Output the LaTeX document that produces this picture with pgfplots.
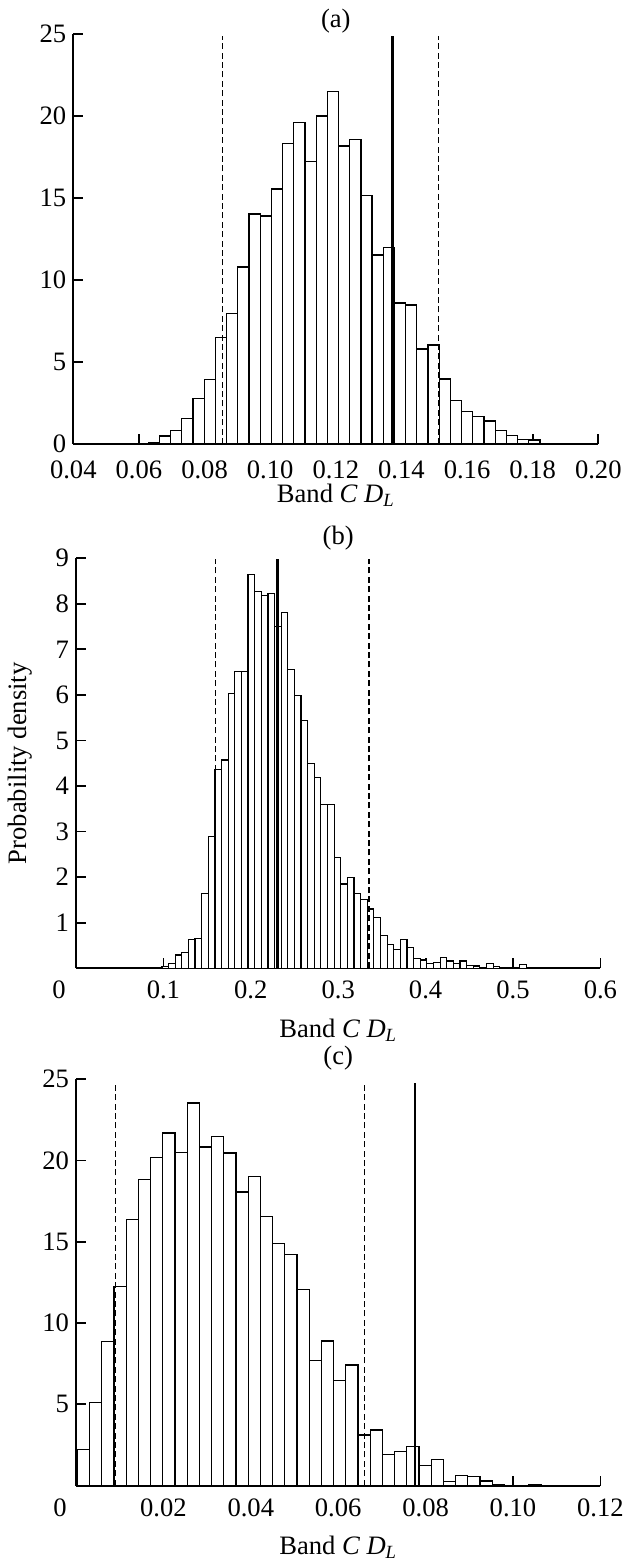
\documentclass[border=0pt]{standalone}
\usepackage{fontspec}
\setmainfont{Liberation Serif}
\usepackage{pgfplots}
\pgfplotsset{compat=1.18}

% common look of the three histograms
\pgfplotsset{
  histo/.style={
    scale only axis, clip=false,
    axis x line*=bottom, axis y line*=left,
    axis line style={line width=0.9pt},
    tick align=inside, major tick length=5pt,
    every tick/.style={line width=0.9pt, black},
    font=\fontsize{13.3}{16}\selectfont,
    every tick label/.append style={font=\fontsize{13.3}{16}\selectfont},
    /pgf/number format/assume math mode=true,
    xticklabel style={yshift=-3pt},
    xlabel={Band \textit{C D}\textsubscript{\textit{L}}},
    title style={at={(0.5,1)}, anchor=south},
  },
  bars/.style={ybar interval, fill=white, draw=black, line width=0.6pt},
  dashv/.style={black, line width=0.6pt, dash pattern=on 3pt off 1.7pt},
  solidv/.style={black, line width=1.2pt},
}

\begin{document}
\begin{tikzpicture}
\useasboundingbox (0pt,0pt) rectangle (312.5pt,-783pt);

% ---------------- (a)
\begin{axis}[histo,
  at={(36.65pt,-222pt)}, anchor=south west,
  width=262.5pt, height=204.85pt,
  xmin=0.04, xmax=0.20, ymin=0, ymax=25,
  xtick={0.04,0.06,0.08,0.10,0.12,0.14,0.16,0.18,0.20},
  xticklabels={0.04,0.06,0.08,0.10,0.12,0.14,0.16,0.18,0.20},
  xticklabel style={yshift=-2pt},
  ytick={0,5,10,15,20,25},
  title={(a)}, title style={yshift=-9pt},
  xlabel style={at={(axis description cs:0.5,-0.125)}, anchor=center},
]
\addplot[bars] coordinates {
(0.04917,0.05) (0.05258,0) (0.05600,0) (0.05941,0) (0.06282,0.10)
(0.06623,0.49) (0.06965,0.81) (0.07306,1.54) (0.07647,2.77) (0.07988,3.95)
(0.08329,6.49) (0.08670,7.97) (0.09011,10.8) (0.09353,14.03) (0.09694,13.91)
(0.10035,15.56) (0.10376,18.32) (0.10717,19.63) (0.11059,17.25) (0.11400,20.01)
(0.11741,21.52) (0.12082,18.18) (0.12423,18.59) (0.12765,15.15) (0.13106,11.53)
(0.13447,12.0) (0.13788,8.6) (0.14129,8.48) (0.14471,5.8) (0.14812,6.04)
(0.15153,3.97) (0.15494,2.67) (0.15835,1.99) (0.16177,1.67) (0.16518,1.40)
(0.16859,0.81) (0.17200,0.53) (0.17541,0.29) (0.17883,0.24) (0.18224,0)
(0.18565,0.05) (0.18906,0)
};
\addplot[dashv] coordinates {(0.0855,0) (0.0855,24.9)};
\addplot[dashv] coordinates {(0.1512,0) (0.1512,24.9)};
\addplot[solidv] coordinates {(0.1373,0) (0.1373,24.9)};
\end{axis}

% ---------------- (b)
\begin{axis}[histo,
  at={(38pt,-484.1pt)}, anchor=south west,
  width=262.2pt, height=204.95pt,
  xmin=0, xmax=0.6, ymin=0, ymax=9,
  xtick={0,0.1,0.2,0.3,0.4,0.5,0.6},
  xticklabels={0\hspace*{17pt},0.1,0.2,0.3,0.4,0.5,0.6},
  ytick={1,2,3,4,5,6,7,8,9},
  title={(b)}, title style={yshift=-5.5pt},
  ylabel={Probability density},
  ylabel style={at={(axis description cs:-0.1065,0.5)}, anchor=center},
  xlabel style={at={(axis description cs:0.5,-0.151)}, anchor=center},
]
\addplot[bars] coordinates {
(0.08315,0.02) (0.09073,0) (0.09831,0.03) (0.10589,0.10) (0.11347,0.29)
(0.12105,0.35) (0.12862,0.63) (0.13620,0.66) (0.14378,1.64) (0.15136,2.90)
(0.15894,4.37) (0.16652,4.57) (0.17410,6.03) (0.18168,6.52) (0.18926,6.51)
(0.19684,8.65) (0.20441,8.27) (0.21199,8.18) (0.21957,8.23) (0.22715,7.51)
(0.23473,7.81) (0.24231,6.56) (0.24989,5.98) (0.25747,5.43) (0.26505,4.49)
(0.27263,4.19) (0.28020,3.60) (0.28778,3.60) (0.29536,2.43) (0.30294,1.85)
(0.31052,2.00) (0.31810,1.64) (0.32568,1.50) (0.33326,1.30) (0.34084,1.11)
(0.34842,0.71) (0.35599,0.52) (0.36357,0.41) (0.37115,0.63) (0.37873,0.46)
(0.38631,0.22) (0.39389,0.18) (0.40147,0.11) (0.40905,0.12) (0.41663,0.23)
(0.42421,0.16) (0.43178,0.11) (0.43936,0.16) (0.44694,0.06) (0.45452,0.05)
(0.46210,0.01) (0.46968,0.11) (0.47726,0.04) (0.48484,0) (0.49242,0.02)
(0.50000,0) (0.50757,0.09) (0.51515,0)
};
\addplot[dashv] coordinates {(0.1594,0) (0.1594,8.98)};
\addplot[dashv] coordinates {(0.3352,0) (0.3352,8.98)};
\addplot[solidv] coordinates {(0.2307,0) (0.2307,8.98)};
\end{axis}

% ---------------- (c)
\begin{axis}[histo,
  at={(38pt,-742.8pt)}, anchor=south west,
  width=262.2pt, height=203.15pt,
  xmin=0, xmax=0.12, ymin=0, ymax=25,
  xtick={0,0.02,0.04,0.06,0.08,0.10,0.12},
  xticklabels={0\hspace*{16pt},0.02,0.04,0.06,0.08,0.10,0.12},
  ytick={5,10,15,20,25},
  title={(c)}, title style={yshift=-5pt},
  xlabel style={at={(axis description cs:0.5,-0.151)}, anchor=center},
]
\addplot[bars] coordinates {
(0.00030,2.23) (0.00309,5.10) (0.00588,8.86) (0.00868,12.24) (0.01147,16.36)
(0.01426,18.83) (0.01705,20.20) (0.01984,21.70) (0.02264,20.50) (0.02543,23.54)
(0.02822,20.84) (0.03101,21.50) (0.03380,20.47) (0.03660,18.07) (0.03939,19.03)
(0.04218,16.57) (0.04497,14.91) (0.04776,14.21) (0.05056,12.08) (0.05335,7.69)
(0.05614,8.90) (0.05893,6.46) (0.06172,7.42) (0.06452,3.11) (0.06731,3.42)
(0.07010,1.92) (0.07289,2.09) (0.07568,2.40) (0.07848,1.23) (0.08127,1.62)
(0.08406,0.24) (0.08685,0.61) (0.08964,0.55) (0.09244,0.28) (0.09523,0.08)
(0.09802,0) (0.10081,0) (0.10360,0.05) (0.10640,0)
};
\addplot[dashv] coordinates {(0.0091,0) (0.0091,24.8)};
\addplot[dashv] coordinates {(0.0661,0) (0.0661,24.8)};
\addplot[solidv] coordinates {(0.0776,0) (0.0776,24.8)};
\end{axis}
\end{tikzpicture}
\end{document}
